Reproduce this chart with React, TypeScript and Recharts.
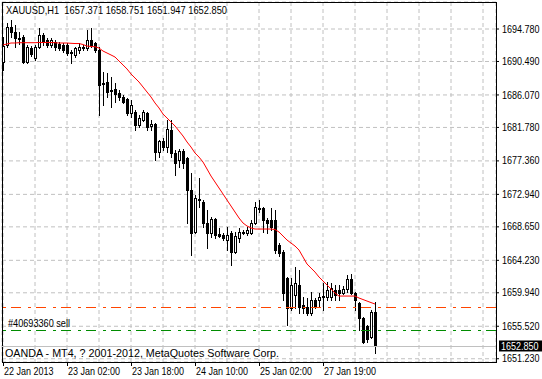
import React from 'react';
import { ComposedChart, Bar, Line, XAxis, YAxis, CartesianGrid, ReferenceLine, ReferenceArea } from 'recharts';

document.body.style.margin = '0';

// XAUUSD H1 bars, oldest first
const opens = [
  1690.42, 1692.67, 1695.04, 1694.38, 1693.59, 1693.72, 1690.42, 1692.27, 1690.95, 1692.40,
  1693.99, 1693.33, 1692.67, 1693.06, 1692.80, 1692.67, 1692.67, 1691.61, 1691.35, 1692.01,
  1692.40, 1692.27, 1693.33, 1692.93, 1692.01, 1687.65, 1687.78, 1686.72, 1686.86, 1686.33,
  1685.80, 1685.53, 1683.69, 1683.82, 1682.10, 1682.76, 1683.69, 1681.97, 1682.23, 1678.53,
  1679.99, 1679.19, 1681.44, 1678.40, 1677.48, 1678.67, 1677.74, 1673.51, 1667.97, 1672.33,
  1671.93, 1669.16, 1667.84, 1669.68, 1667.70, 1667.57, 1666.91, 1667.84, 1665.33, 1667.17,
  1667.97, 1667.84, 1667.84, 1669.16, 1671.00, 1671.14, 1669.55, 1669.55, 1669.55, 1666.25,
  1665.33, 1661.89, 1657.93, 1659.65, 1660.97, 1658.33, 1658.06, 1657.27, 1658.99, 1658.99,
  1659.38, 1659.38, 1659.38, 1660.31, 1660.31, 1659.91, 1660.44, 1661.76, 1659.91, 1658.59,
  1656.61, 1655.55, 1654.10, 1657.371,
];
const highs = [
  1693.72, 1695.57, 1695.97, 1695.31, 1694.38, 1693.99, 1692.67, 1692.53, 1692.67, 1694.91,
  1694.25, 1693.59, 1693.59, 1693.33, 1693.06, 1692.93, 1692.93, 1692.01, 1692.40, 1692.93,
  1692.67, 1694.65, 1694.91, 1693.06, 1692.40, 1689.10, 1688.97, 1688.44, 1687.65, 1686.72,
  1686.06, 1685.67, 1685.40, 1684.08, 1683.42, 1684.08, 1683.82, 1682.76, 1682.36, 1680.12,
  1680.38, 1682.76, 1682.76, 1678.80, 1678.93, 1678.93, 1677.87, 1675.76, 1672.85, 1675.10,
  1672.19, 1670.87, 1669.95, 1669.82, 1668.50, 1667.84, 1668.63, 1668.10, 1667.97, 1668.50,
  1668.23, 1668.63, 1669.55, 1671.93, 1672.19, 1671.27, 1669.82, 1671.14, 1670.87, 1666.51,
  1665.59, 1662.02, 1661.89, 1663.34, 1662.95, 1659.38, 1659.25, 1660.04, 1659.25, 1659.91,
  1661.23, 1661.36, 1661.23, 1660.97, 1660.97, 1660.84, 1662.29, 1662.42, 1660.04, 1658.72,
  1656.74, 1655.68, 1657.67, 1658.751,
];
const lows = [
  1689.36, 1692.40, 1693.72, 1692.40, 1692.80, 1690.29, 1690.29, 1691.21, 1690.69, 1692.27,
  1692.67, 1692.40, 1692.40, 1692.01, 1692.01, 1691.74, 1691.35, 1690.29, 1691.08, 1691.61,
  1692.01, 1692.01, 1692.40, 1691.74, 1683.42, 1684.74, 1685.80, 1684.48, 1685.14, 1685.40,
  1685.01, 1683.42, 1683.16, 1681.44, 1681.84, 1682.63, 1681.44, 1681.44, 1677.48, 1677.87,
  1678.80, 1678.53, 1677.87, 1675.50, 1676.55, 1676.42, 1669.16, 1664.93, 1667.84, 1671.27,
  1668.63, 1665.85, 1667.31, 1667.17, 1667.31, 1666.91, 1665.59, 1663.61, 1665.19, 1666.65,
  1667.70, 1667.57, 1667.70, 1669.02, 1670.61, 1667.97, 1667.84, 1668.23, 1665.19, 1664.80,
  1658.99, 1655.68, 1657.67, 1657.93, 1657.27, 1657.27, 1657.00, 1657.00, 1657.93, 1658.06,
  1657.67, 1658.99, 1658.99, 1658.99, 1658.99, 1659.78, 1660.04, 1659.78, 1657.67, 1655.02,
  1653.31, 1653.44, 1653.97, 1651.947,
];
const closes = [
  1692.53, 1695.04, 1694.38, 1693.59, 1693.46, 1690.42, 1692.40, 1691.48, 1692.40, 1693.99,
  1693.06, 1692.67, 1693.33, 1692.40, 1692.27, 1692.01, 1691.61, 1691.74, 1692.27, 1692.40,
  1692.27, 1693.33, 1692.67, 1692.01, 1687.38, 1687.52, 1686.46, 1686.59, 1686.19, 1685.80,
  1685.14, 1683.69, 1684.74, 1682.10, 1683.02, 1683.82, 1681.84, 1682.23, 1678.53, 1679.99,
  1679.19, 1681.57, 1678.40, 1677.08, 1678.67, 1677.08, 1673.51, 1667.84, 1672.46, 1672.19,
  1669.16, 1667.84, 1669.68, 1667.57, 1667.44, 1667.17, 1667.57, 1665.33, 1667.44, 1667.97,
  1667.84, 1668.23, 1669.16, 1671.27, 1671.14, 1669.55, 1669.16, 1668.63, 1665.59, 1665.19,
  1659.91, 1657.93, 1660.97, 1661.23, 1658.06, 1657.93, 1657.27, 1658.99, 1658.06, 1659.38,
  1659.51, 1660.31, 1660.57, 1659.65, 1659.91, 1660.44, 1661.76, 1659.91, 1658.99, 1656.61,
  1653.44, 1653.84, 1657.40, 1652.85,
];
// red moving average
const maValues = [
  1692.67, 1692.80, 1692.93, 1692.93, 1692.97, 1692.97, 1692.97, 1692.97, 1692.97, 1693.00,
  1693.00, 1693.00, 1693.00, 1692.97, 1692.93, 1692.93, 1692.93, 1692.89, 1692.86, 1692.86,
  1692.73, 1692.53, 1692.47, 1692.44, 1692.27, 1691.87, 1691.61, 1691.35, 1691.08, 1690.55,
  1690.03, 1689.50, 1688.84, 1688.31, 1687.78, 1687.12, 1686.46, 1685.80, 1685.01, 1684.35,
  1683.55, 1683.02, 1682.50, 1681.97, 1681.31, 1680.65, 1679.86, 1679.19, 1678.40, 1677.87,
  1677.21, 1676.29, 1675.36, 1674.57, 1673.78, 1672.99, 1672.19, 1671.40, 1670.61, 1669.82,
  1669.16, 1668.76, 1668.50, 1668.36, 1668.36, 1668.36, 1668.36, 1668.36, 1668.30, 1667.97,
  1667.44, 1666.91, 1666.51, 1666.12, 1665.59, 1664.67, 1663.74, 1663.21, 1662.68, 1662.02,
  1661.50, 1660.97, 1660.44, 1659.91, 1659.51, 1659.51, 1659.51, 1659.51, 1659.51, 1659.25,
  1659.05, 1658.85, 1658.65, 1658.46,
];

const priceTicks = [1651.23, 1655.52, 1659.94, 1664.23, 1668.65, 1672.94, 1677.36, 1681.78, 1686.07, 1690.49, 1694.78];
const timeLabels = ['22 Jan 2013', '23 Jan 02:00', '23 Jan 18:00', '24 Jan 10:00', '25 Jan 02:00', '27 Jan 19:00'];
const timeLabelBars = [0, 16, 32, 48, 64, 80];
const gridBars = [0, 8, 16, 24, 32, 40, 48, 56, 64, 72, 80, 88, 96, 104, 112, 120];

const symbolName = 'XAUUSD,H1';
const stopLevel = 1658.02;
const orderLevel = 1655.02;
const orderText = '#40693360 sell';
const copyright = 'OANDA - MT4, ? 2001-2012, MetaQuotes Software Corp.';

const xDomain: [number, number] = [-0.25, 123.25];
const yDomain: [number, number] = [1650.8, 1698.346];

const FONT = "'Liberation Sans', Arial, sans-serif";
const NARROW = 0.9; // MT4 scale font is narrower than Liberation

const data = opens.map((o, i) => ({
  i,
  open: o,
  high: highs[i],
  low: lows[i],
  close: closes[i],
  range: [lows[i], highs[i]],
  ma: maValues[i],
}));

const last = data[data.length - 1];

const Candle = (props: any) => {
  const { x, y, width, height, payload } = props;
  if (!payload) return null;
  const cx = Math.round(x + width / 2);
  const top = Math.min(y, y + height);
  const bottom = Math.max(y, y + height);
  const span = payload.high - payload.low || 1;
  const py = (p: number) => Math.round(top + ((payload.high - p) / span) * (bottom - top));
  const yH = py(payload.high);
  const yL = py(payload.low);
  const yO = py(payload.open);
  const yC = py(payload.close);
  const bTop = Math.min(yO, yC);
  const bBot = Math.max(yO, yC);
  const bull = payload.close > payload.open;
  return (
    <g shapeRendering="crispEdges">
      <rect x={cx} y={yH} width={1} height={yL - yH + 1} fill="#000" />
      <rect x={cx - 1} y={bTop} width={3} height={bBot - bTop + 1} fill="#000" />
      {bull && bBot - bTop >= 2 && (
        <rect x={cx} y={bTop + 1} width={1} height={bBot - bTop - 1} fill="#fff" />
      )}
    </g>
  );
};

const TimeTick = ({ x, y, payload }: any) => {
  const idx = timeLabelBars.indexOf(payload.value);
  if (idx < 0) return <g />;
  return (
    <g>
      <line x1={x + 0.5} x2={x + 0.5} y1={y} y2={y + 4} stroke="#000" shapeRendering="crispEdges" />
      <text
        transform={`translate(${x + 1},${y + 13}) scale(${NARROW},1)`}
        fontSize={10}
        fontFamily={FONT}
        fill="#000"
      >
        {timeLabels[idx]}
      </text>
    </g>
  );
};

const PriceTick = ({ x, y, payload }: any) => (
  <text
    transform={`translate(${x},${y}) scale(${NARROW},1)`}
    dy="0.355em"
    fontSize={10}
    fontFamily={FONT}
    fill="#000"
  >
    {Number(payload.value).toFixed(3)}
  </text>
);

const App: React.FC = () => {
  return (
    <div style={{ position: 'relative', width: 542, height: 379, background: '#fff' }}>
      <ComposedChart
        width={542}
        height={379}
        data={data}
        margin={{ top: 2, right: 0, bottom: 0, left: 2 }}
      >
        <CartesianGrid stroke="#c0c0c0" strokeDasharray="4 3" />
        <XAxis
          dataKey="i"
          type="number"
          domain={xDomain}
          allowDataOverflow
          ticks={gridBars}
          interval={0}
          height={17}
          tickSize={0}
          tickMargin={0}
          axisLine={false}
          tickLine={false}
          tick={<TimeTick />}
        />
        <YAxis
          orientation="right"
          type="number"
          domain={yDomain}
          allowDataOverflow
          ticks={priceTicks}
          interval={0}
          width={46}
          tickSize={3}
          tickMargin={3}
          axisLine={false}
          tickLine={{ stroke: '#000' }}
          tick={<PriceTick />}
        />
        <ReferenceLine
          y={stopLevel}
          stroke="#ff4500"
          strokeDasharray="10 5 3 7"
          shapeRendering="crispEdges"
        />
        <ReferenceLine
          y={orderLevel}
          stroke="#008c00"
          strokeDasharray="10 5 3 7"
          shapeRendering="crispEdges"
          label={(p: any) => (
            <text
              x={p.viewBox.x + 6}
              y={p.viewBox.y - 3}
              fontSize={11}
              fontFamily={FONT}
              fill="#000"
              textLength={62}
              lengthAdjust="spacingAndGlyphs"
            >
              {orderText}
            </text>
          )}
        />
        <ReferenceLine
          y={last.close}
          stroke="#c0c0c0"
          shapeRendering="crispEdges"
          label={(p: any) => (
            <g>
              <rect x={p.viewBox.x + p.viewBox.width + 3} y={p.viewBox.y - 6} width={44} height={11} fill="#000" />
              <text
                transform={`translate(${p.viewBox.x + p.viewBox.width + 5},${p.viewBox.y + 4}) scale(${NARROW},1)`}
                fontSize={10}
                fontFamily={FONT}
                fill="#fff"
              >
                {last.close.toFixed(3)}
              </text>
            </g>
          )}
        />
        <Bar dataKey="range" barSize={3} isAnimationActive={false} shape={(p: any) => <Candle {...p} />} />
        <Line
          type="linear"
          dataKey="ma"
          stroke="#ff0000"
          strokeWidth={1}
          dot={false}
          activeDot={false}
          isAnimationActive={false}
        />
        <ReferenceArea
          x1={xDomain[0]}
          x2={xDomain[1]}
          y1={yDomain[0]}
          y2={yDomain[1]}
          fill="none"
          stroke="#000"
          strokeWidth={1}
          fillOpacity={0}
          strokeOpacity={1}
          shapeRendering="crispEdges"
        />
      </ComposedChart>
      <svg
        width={542}
        height={379}
        style={{ position: 'absolute', left: 0, top: 0, pointerEvents: 'none' }}
      >
        <text
          x={6}
          y={14}
          fontSize={11}
          fontFamily={FONT}
          fill="#000"
          textLength={221}
          lengthAdjust="spacingAndGlyphs"
          style={{ whiteSpace: 'pre' }}
        >
          {`${symbolName}  ${last.open.toFixed(3)} ${last.high.toFixed(3)} ${last.low.toFixed(3)} ${last.close.toFixed(3)}`}
        </text>
        <text
          x={5}
          y={357}
          fontSize={11}
          fontFamily={FONT}
          fill="#000"
          textLength={274}
          lengthAdjust="spacingAndGlyphs"
        >
          {copyright}
        </text>
      </svg>
    </div>
  );
};

export default App;
